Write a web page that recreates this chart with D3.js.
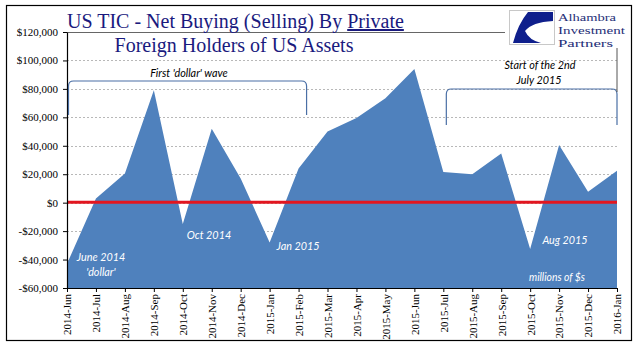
<!DOCTYPE html>
<html>
<head>
<meta charset="utf-8">
<script src="https://cdn.jsdelivr.net/npm/d3@7"></script>
<style>
  body { margin: 0; background: #fff; }
  svg { display: block; }
</style>
</head>
<body>
<div id="chart"></div>
<script>
// Months on the x axis
const months = ["2014-Jun", "2014-Jul", "2014-Aug", "2014-Sep", "2014-Oct", "2014-Nov", "2014-Dec",
  "2015-Jan", "2015-Feb", "2015-Mar", "2015-Apr", "2015-May", "2015-Jun", "2015-Jul",
  "2015-Aug", "2015-Sep", "2015-Oct", "2015-Nov", "2015-Dec", "2016-Jan"];

// Net buying (selling), millions of $
const netBuying = [-43000, 3000, 20500, 79000, -15000, 52000, 17000,
  -28000, 24000, 50000, 59500, 73500, 94000, 21500,
  20000, 34500, -32500, 40500, 7700, 22500];

const yTicks = [-60000, -40000, -20000, 0, 20000, 40000, 60000, 80000, 100000, 120000];

const width = 641;
const height = 361;

const svg = d3.select("#chart")
  .append("svg")
  .attr("width", width)
  .attr("height", height);

// outer frame
svg.append("rect")
  .attr("x", 6.5).attr("y", 5.5)
  .attr("width", 625).attr("height", 335)
  .attr("fill", "none")
  .attr("stroke", "#000")
  .attr("stroke-width", 1.2);

const x = d3.scalePoint().domain(months).range([67, 617]);
const y = d3.scaleLinear().domain([-60000, 120000]).range([288, 32]);

// gridlines
svg.append("g")
  .selectAll("line")
  .data(yTicks.filter(t => t > -60000 && t < 120000))
  .join("line")
  .attr("x1", 67).attr("x2", 617)
  .attr("y1", d => Math.round(y(d)) + 0.5)
  .attr("y2", d => Math.round(y(d)) + 0.5)
  .attr("stroke", "#a6a6a6")
  .attr("stroke-dasharray", "2,2")
  .attr("stroke-width", 0.8);

// top frame line of the plot
svg.append("line")
  .attr("x1", 67).attr("x2", 617)
  .attr("y1", y(120000) + 0.5).attr("y2", y(120000) + 0.5)
  .attr("stroke", "#666");

// the area
const area = d3.area()
  .x((d, i) => x(months[i]))
  .y0(y(-60000))
  .y1(d => y(d));

svg.append("path")
  .datum(netBuying)
  .attr("d", area)
  .attr("fill", "#4f81bd");

// zero line
svg.append("line")
  .attr("x1", 67).attr("x2", 617)
  .attr("y1", y(0) - 0.5).attr("y2", y(0) - 0.5)
  .attr("stroke", "#e3161f")
  .attr("stroke-width", 3);

// axes
const yAxis = svg.append("g")
  .attr("transform", "translate(67,0)")
  .call(d3.axisLeft(y).tickValues(yTicks).tickSize(4).tickSizeOuter(0)
    .tickFormat(d => (d < 0 ? "-$" : "$") + d3.format(",")(Math.abs(d))));

const xAxis = svg.append("g")
  .attr("transform", `translate(0,${y(-60000)})`)
  .call(d3.axisBottom(x).tickSize(4).tickSizeOuter(0));

[yAxis, xAxis].forEach(g => {
  g.select(".domain").attr("stroke", "#000").attr("stroke-width", 1.2);
  g.selectAll(".tick line").attr("stroke", "#000");
  g.selectAll("text")
    .attr("fill", "#000")
    .style("font-family", "'Liberation Serif', 'Times New Roman', serif")
    .style("font-size", "11px");
});
yAxis.selectAll("text").attr("x", -9);

xAxis.selectAll("text")
  .attr("transform", "rotate(-90)")
  .attr("text-anchor", "end")
  .attr("x", -6)
  .attr("y", 0)
  .attr("dy", "0.35em");

// title with white backing
svg.append("rect")
  .attr("x", 66).attr("y", 8).attr("width", 336).attr("height", 23)
  .attr("fill", "#fff");
const titleG = svg.append("g")
  .style("font-family", "'Liberation Serif', 'Times New Roman', serif")
  .style("font-size", "20px")
  .attr("fill", "#1a1a7e");
const t1 = titleG.append("text").attr("x", 67).attr("y", 28);
t1.append("tspan").text("US TIC - Net Buying (Selling) By ");
t1.append("tspan").text("Private").attr("text-decoration", "underline");
titleG.append("text").attr("x", 234).attr("y", 52)
  .attr("text-anchor", "middle")
  .text("Foreign Holders of US Assets");

// logo
const logo = svg.append("g");
logo.append("rect")
  .attr("x", 505).attr("y", 8).attr("width", 124).attr("height", 42)
  .attr("fill", "#fff");
logo.append("rect")
  .attr("x", 509.5).attr("y", 10.5).attr("width", 45).attr("height", 34)
  .attr("fill", "#fff").attr("stroke", "#c8c8c8");
logo.append("path")
  .attr("d", "M528,12 L553,12 L553,21 Q532,22 525,31 Q529,40 541,43 L513,43 Q518,24 528,12 Z")
  .attr("fill", "#0f1f8c");
const logoText = logo.append("g")
  .style("font-family", "'Liberation Serif', 'Times New Roman', serif")
  .style("font-size", "11.2px")
  .attr("fill", "#1f2f78");
[["Alhambra", 58], ["Investment", 67], ["Partners", 55]].forEach(([s, w], i) => {
  logoText.append("text").attr("x", 558).attr("y", 21 + i * 13)
    .attr("textLength", w).attr("lengthAdjust", "spacingAndGlyphs")
    .text(s);
});

// brackets
const bracket = (x0, x1, yTop, yBot) => {
  const r = 5;
  return `M${x0},${yBot} L${x0},${yTop + r} Q${x0},${yTop} ${x0 + r},${yTop} L${x1 - r},${yTop} Q${x1},${yTop} ${x1},${yTop + r} L${x1},${yBot}`;
};
svg.append("path")
  .attr("d", bracket(x("2014-Jun") + 1.5, x("2015-Feb") + 8, 81, 115))
  .attr("fill", "none").attr("stroke", "#4a6fa5").attr("stroke-width", 1.2);
svg.append("path")
  .attr("d", bracket(x("2015-Jul") + 3, x("2016-Jan"), 89, 125))
  .attr("fill", "none").attr("stroke", "#4a6fa5").attr("stroke-width", 1.2);
svg.append("line")
  .attr("x1", x("2016-Jan")).attr("x2", x("2016-Jan"))
  .attr("y1", 48).attr("y2", 92)
  .attr("stroke", "#555");

// annotations (Calibri-like: Lato squeezed a little)
const note = (txt, cx, cy, color, size) => {
  const t = svg.append("text")
    .attr("x", cx).attr("y", cy)
    .attr("text-anchor", "middle")
    .attr("fill", color)
    .style("font-family", "Lato, 'Open Sans', sans-serif")
    .style("font-style", "italic")
    .style("font-size", (size || 12) + "px")
    .text(txt);
  const len = t.node().getComputedTextLength();
  t.attr("textLength", len * 0.9).attr("lengthAdjust", "spacingAndGlyphs");
  return t;
};

note("First 'dollar' wave", 189, 77, "#000");
note("Start of the 2nd", 540, 69, "#000");
note("July 2015", 539, 84, "#000");
note("June 2014", 101, 261, "#fff");
note("'dollar'", 101, 276, "#fff");
note("Oct 2014", 209, 239, "#fff");
note("Jan 2015", 298, 250, "#fff");
note("Aug 2015", 565, 244, "#fff");
note("millions of $s", 557, 281, "#fff", 11.5);
</script>
</body>
</html>
